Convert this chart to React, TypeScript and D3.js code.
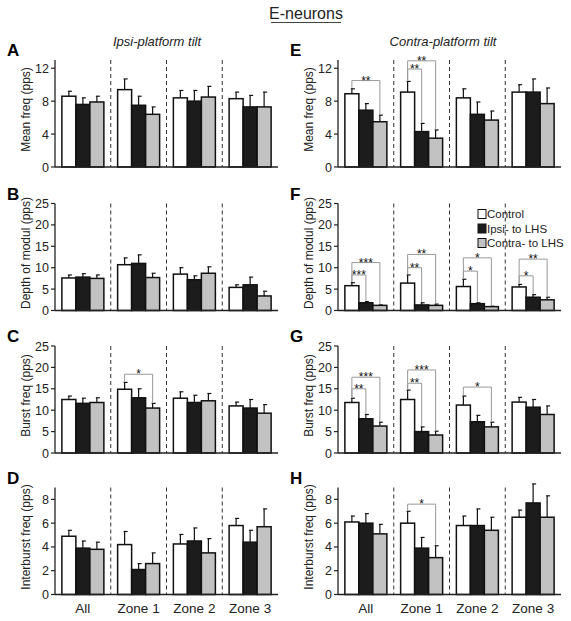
import React from "react";
import * as d3 from "d3";

const categories = ["All", "Zone 1", "Zone 2", "Zone 3"];
const seriesNames = ["Control", "Ipsi- to LHS", "Contra- to LHS"];
const seriesFills = ["#ffffff", "#1c1c1c", "#c2c2c2"];

// Panel A – Mean freq, ipsi-platform tilt
const aMean = [[8.6, 9.4, 8.4, 8.3], [7.6, 7.5, 8.0, 7.3], [7.9, 6.4, 8.5, 7.3]];
const aSE = [[0.6, 1.3, 0.9, 0.8], [0.8, 1.1, 1.3, 1.4], [0.7, 0.9, 1.3, 1.8]];
// Panel B – Depth of modul
const bMean = [[7.6, 10.7, 8.5, 5.4], [7.8, 11.0, 7.2, 6.0], [7.5, 7.7, 8.7, 3.4]];
const bSE = [[0.7, 1.6, 1.5, 0.6], [0.8, 2.0, 0.9, 1.8], [0.8, 1.0, 1.5, 1.1]];
// Panel C – Burst freq
const cMean = [[12.5, 14.9, 12.8, 11.0], [11.6, 12.9, 11.8, 10.5], [11.8, 10.5, 12.2, 9.3]];
const cSE = [[0.8, 1.6, 1.5, 0.9], [1.2, 2.1, 1.7, 2.0], [1.1, 1.1, 1.7, 2.0]];
// Panel D – Interburst freq
const dMean = [[4.9, 4.2, 4.25, 5.8], [3.9, 2.1, 4.5, 4.4], [3.8, 2.6, 3.5, 5.7]];
const dSE = [[0.5, 1.1, 0.8, 0.6], [0.6, 0.5, 1.1, 1.0], [0.6, 0.9, 1.2, 1.5]];
// Panel E – Mean freq, contra-platform tilt
const eMean = [[8.9, 9.1, 8.4, 9.1], [6.9, 4.3, 6.4, 9.1], [5.5, 3.5, 5.7, 7.7]];
const eSE = [[0.6, 1.3, 1.1, 0.9], [0.8, 1.0, 1.5, 1.6], [0.8, 1.0, 1.1, 1.9]];
// Panel F – Depth of modul
const fMean = [[5.8, 6.4, 5.6, 5.5], [1.8, 1.3, 1.6, 3.1], [1.2, 1.2, 0.9, 2.5]];
const fSE = [[0.7, 1.9, 1.7, 0.6], [0.3, 0.5, 0.2, 0.6], [0.1, 0.3, 0.1, 0.6]];
// Panel G – Burst freq
const gMean = [[11.8, 12.5, 11.2, 11.9], [8.0, 5.0, 7.3, 10.7], [6.3, 4.2, 6.1, 9.0]];
const gSE = [[1.0, 2.2, 2.1, 1.1], [1.0, 1.1, 1.5, 1.8], [0.9, 0.9, 1.1, 2.0]];
// Panel H – Interburst freq
const hMean = [[6.1, 6.0, 5.8, 6.5], [6.0, 3.9, 5.8, 7.7], [5.1, 3.1, 5.4, 6.5]];
const hSE = [[0.5, 1.0, 0.8, 0.6], [0.8, 0.9, 1.4, 1.6], [0.8, 1.0, 1.1, 1.8]];

// significance brackets: [group, target series, level, label]
const cSig: [number, number, number, string][] = [[1, 2, 18.4, "*"]];
const eSig: [number, number, number, string][] = [[0, 2, 10.5, "**"], [1, 1, 11.9, "**"], [1, 2, 12.9, "**"]];
const fSig: [number, number, number, string][] = [
  [0, 1, 8.3, "***"], [0, 2, 11.2, "***"], [1, 1, 10.0, "**"], [1, 2, 13.1, "**"],
  [2, 1, 9.2, "*"], [2, 2, 12.3, "*"], [3, 1, 8.1, "*"], [3, 2, 12.0, "**"],
];
const gSig: [number, number, number, string][] = [
  [0, 1, 15.0, "**"], [0, 2, 17.7, "***"], [1, 1, 16.3, "**"], [1, 2, 19.4, "***"], [2, 2, 15.4, "*"],
];
const hSig: [number, number, number, string][] = [[1, 2, 7.6, "*"]];

const ticksMean = [0, 4, 8, 12];
const ticks25 = [0, 5, 10, 15, 20, 25];
const ticks8 = [0, 2, 4, 6, 8];

const FONT = "'Liberation Sans', Arial, Helvetica, sans-serif";

type PanelProps = {
  letter: string;
  x0: number;
  y0: number;
  ylabel: string;
  yMax: number;
  ticks: number[];
  mean: number[][];
  se: number[][];
  sig?: [number, number, number, string][];
  xLabels?: boolean;
  legend?: boolean;
};

const PW = 223;
const PH = 107;
const BW = 14;

function Panel({ letter, x0, y0, ylabel, yMax, ticks, mean, se, sig = [], xLabels, legend }: PanelProps) {
  const y = d3.scaleLinear().domain([0, yMax]).range([y0, y0 - PH]);
  const gx = d3.scaleBand<string>().domain(categories).range([x0, x0 + PW]).padding(0);
  const barX = (g: number, s: number) => (gx(categories[g]) as number) + gx.bandwidth() / 2 - 1.5 * BW + s * BW;
  const barC = (g: number, s: number) => barX(g, s) + BW / 2;
  return (
    <g>
      <text x={x0 - 48} y={y0 - PH - 4} fontFamily={FONT} fontWeight="bold" fontSize={17}>{letter}</text>
      {/* dashed separators */}
      {categories.slice(1).map((c) => (
        <line key={c} x1={gx(c)} x2={gx(c)} y1={y0 - PH} y2={y0} stroke="#333" strokeWidth={1} strokeDasharray="4,3" />
      ))}
      {/* bars */}
      {mean.map((row, s) =>
        row.map((v, g) => (
          <g key={`${s}-${g}`}>
            <line x1={barC(g, s)} x2={barC(g, s)} y1={y(v)} y2={y(v + se[s][g])} stroke="#111" strokeWidth={1.2} />
            <line x1={barC(g, s) - 1} x2={barC(g, s) + 3} y1={y(v + se[s][g])} y2={y(v + se[s][g])} stroke="#111" strokeWidth={1.2} />
            <rect x={barX(g, s)} y={y(v)} width={BW} height={y0 - y(v)} fill={seriesFills[s]} stroke="#111" strokeWidth={1.5} />
          </g>
        ))
      )}
      {/* significance brackets */}
      {sig.map(([g, t, lvl, lab], i) => {
        const xa = barC(g, 0);
        const xb = barC(g, t);
        const ya = y(lvl);
        const ea = y(mean[0][g] + se[0][g]) - 1;
        const eb = y(mean[t][g] + se[t][g]) - 1;
        return (
          <g key={i}>
            <path d={`M${xa},${ea}V${ya}H${xb}V${eb}`} fill="none" stroke="#999" strokeWidth={1} />
            <text x={(xa + xb) / 2} y={ya + 4} textAnchor="middle" fontFamily={FONT} fontSize={12} fill="#111">{lab}</text>
          </g>
        );
      })}
      {/* axes */}
      <line x1={x0} x2={x0} y1={y0} y2={y0 - PH} stroke="#222" strokeWidth={1.3} />
      <line x1={x0} x2={x0 + PW} y1={y0} y2={y0} stroke="#222" strokeWidth={1.3} />
      {ticks.map((t) => (
        <g key={t}>
          <line x1={x0 - 4} x2={x0} y1={y(t)} y2={y(t)} stroke="#222" strokeWidth={1.2} />
          <text x={x0 - 6} y={y(t) + 4.5} textAnchor="end" fontFamily={FONT} fontSize={12.5} fill="#222">{t}</text>
        </g>
      ))}
      <text
        transform={`translate(${x0 - 25},${y0 - PH / 2 - 4}) rotate(-90)`}
        textAnchor="middle"
        fontFamily={FONT}
        fontSize={12}
        fill="#222"
      >
        {ylabel}
      </text>
      {xLabels &&
        categories.map((c) => (
          <text key={c} x={(gx(c) as number) + gx.bandwidth() / 2} y={y0 + 18} textAnchor="middle" fontFamily={FONT} fontSize={13.5} fill="#222">{c}</text>
        ))}
      {legend &&
        seriesNames.map((n, i) => (
          <g key={n}>
            <rect x={478} y={y0 - 101 + i * 14.5} width={8} height={9} fill={seriesFills[i]} stroke="#111" strokeWidth={1} />
            <text x={487} y={y0 - 92.5 + i * 14.5} fontFamily={FONT} fontSize={11.5} fill="#222">{n}</text>
          </g>
        ))}
    </g>
  );
}

export default function App() {
  const LX = 55;
  const RX = 338;
  const rows = [167, 310.5, 453, 594.5];
  return (
    <svg width={571} height={621} style={{ position: "absolute", left: 0, top: 0, background: "#fff" }}>
      <text x={306} y={19} textAnchor="middle" fontFamily={FONT} fontSize={16} fill="#222">E-neurons</text>
      <line x1={271} x2={341} y1={22.5} y2={22.5} stroke="#444" strokeWidth={1.2} />
      <text x={157} y={46} textAnchor="middle" fontFamily={FONT} fontStyle="italic" fontSize={13} fill="#222">Ipsi-platform tilt</text>
      <text x={443} y={46} textAnchor="middle" fontFamily={FONT} fontStyle="italic" fontSize={13} fill="#222">Contra-platform tilt</text>

      <Panel letter="A" x0={LX} y0={rows[0]} ylabel="Mean freq (pps)" yMax={13} ticks={ticksMean} mean={aMean} se={aSE} />
      <Panel letter="B" x0={LX} y0={rows[1]} ylabel="Depth of modul (pps)" yMax={25} ticks={ticks25} mean={bMean} se={bSE} />
      <Panel letter="C" x0={LX} y0={rows[2]} ylabel="Burst freq (pps)" yMax={25} ticks={ticks25} mean={cMean} se={cSE} sig={cSig} />
      <Panel letter="D" x0={LX} y0={rows[3]} ylabel="Interburst freq (pps)" yMax={9} ticks={ticks8} mean={dMean} se={dSE} xLabels />

      <Panel letter="E" x0={RX} y0={rows[0]} ylabel="Mean freq (pps)" yMax={13} ticks={ticksMean} mean={eMean} se={eSE} sig={eSig} />
      <Panel letter="F" x0={RX} y0={rows[1]} ylabel="Depth of modul (pps)" yMax={25} ticks={ticks25} mean={fMean} se={fSE} sig={fSig} legend />
      <Panel letter="G" x0={RX} y0={rows[2]} ylabel="Burst freq (pps)" yMax={25} ticks={ticks25} mean={gMean} se={gSE} sig={gSig} />
      <Panel letter="H" x0={RX} y0={rows[3]} ylabel="Interburst freq (pps)" yMax={9} ticks={ticks8} mean={hMean} se={hSE} sig={hSig} xLabels />
    </svg>
  );
}
